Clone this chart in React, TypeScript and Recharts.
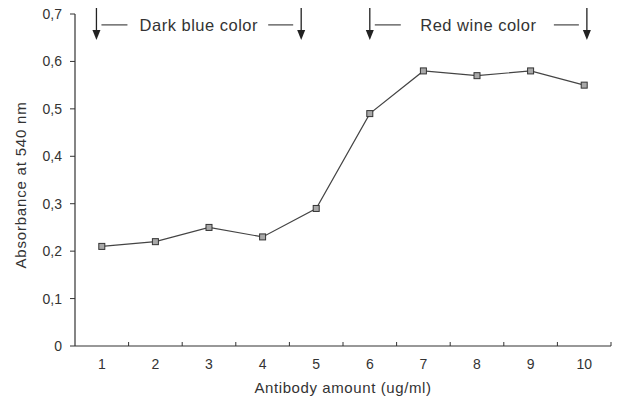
import React from "react";
import { LineChart, Line, XAxis, YAxis, ReferenceLine } from "recharts";

// antibody amount (ug/ml) and absorbance at 540 nm
const amounts = [1, 2, 3, 4, 5, 6, 7, 8, 9, 10];
const absorbance = [0.21, 0.22, 0.25, 0.23, 0.29, 0.49, 0.58, 0.57, 0.58, 0.55];
const yTicks = [0, 0.1, 0.2, 0.3, 0.4, 0.5, 0.6, 0.7];
// category borders get small tick marks, categories get labels
const borders = [1.5, 2.5, 3.5, 4.5, 5.5, 6.5, 7.5, 8.5, 9.5, 10.5];

// annotation arrows and the colour ranges between them
const arrowXs = [0.9, 4.72, 6, 10.05];
const arrowTop = 0.718;
const arrowTip = 0.645;
const colorRanges = [
  { from: 0.9, to: 4.72, text: "Dark blue color" },
  { from: 6, to: 10.05, text: "Red wine color" },
];
const rangeLabelY = 0.677;

const data = amounts.map((x, i) => ({ x, y: absorbance[i] }));
const xTicks = [...amounts, ...borders].sort((a, b) => a - b);

const FONT = "'Liberation Sans', Arial, sans-serif";
const INK = "#333";

const XTick = (props: any) => {
  const { x, y, payload } = props;
  if (Number.isInteger(payload.value)) {
    return (
      <text x={x} y={y + 23} textAnchor="middle" fontSize={14} fill={INK} fontFamily={FONT}>
        {payload.value}
      </text>
    );
  }
  return <line x1={x} x2={x} y1={y} y2={y - 4} stroke={INK} strokeWidth={1} />;
};

const SquareDot = (props: any) => {
  const { cx, cy } = props;
  if (cx == null || cy == null) return null;
  return <rect x={cx - 3} y={cy - 3} width={6} height={6} fill="#a8a8a8" stroke="#333" strokeWidth={1} />;
};

const Arrow = (props: any) => {
  const { x1, y1, y2 } = props;
  return (
    <g>
      <line x1={x1} x2={x1} y1={y1} y2={y2 - 8} stroke="#222" strokeWidth={1.3} />
      <polygon points={`${x1 - 4},${y2 - 10} ${x1 + 4},${y2 - 10} ${x1},${y2}`} fill="#222" />
    </g>
  );
};

const RangeLabel = (props: any, text: string) => {
  const { x1, x2, y1 } = props;
  const mid = (x1 + x2) / 2;
  return (
    <g>
      <line x1={x1 + 5} x2={x1 + 31} y1={y1} y2={y1} stroke="#222" strokeWidth={1} />
      <line x1={x2 - 33} x2={x2 - 8} y1={y1} y2={y1} stroke="#222" strokeWidth={1} />
      <text
        x={mid}
        y={y1 + 6}
        textAnchor="middle"
        fontSize={16.5}
        letterSpacing={0.5}
        fill={INK}
        fontFamily={FONT}
      >
        {text}
      </text>
    </g>
  );
};

const YTitle = (props: any) => {
  const { viewBox } = props;
  const cx = 20;
  const cy = viewBox.y + viewBox.height / 2 + 5;
  return (
    <text
      x={cx}
      y={cy}
      transform={`rotate(-90, ${cx}, ${cy})`}
      textAnchor="middle"
      dominantBaseline="central"
      fontSize={15}
      letterSpacing={0.8}
      fill={INK}
      fontFamily={FONT}
    >
      Absorbance at 540 nm
    </text>
  );
};

export default function App() {
  return (
    <div style={{ margin: "-8px 0 0 -8px", width: 620, height: 401, background: "#fff" }}>
      <LineChart width={620} height={401} data={data} margin={{ top: 14, right: 9, left: 0, bottom: 0 }}>
        <XAxis
          dataKey="x"
          type="number"
          domain={[0.5, 10.5]}
          ticks={xTicks}
          interval={0}
          tick={<XTick />}
          tickLine={false}
          tickSize={0}
          tickMargin={0}
          axisLine={{ stroke: INK, strokeWidth: 1.2 }}
          height={55}
          label={{
            value: "Antibody amount (ug/ml)",
            position: "insideBottom",
            offset: 8,
            fontSize: 15,
            letterSpacing: 0.6,
            fill: INK,
            fontFamily: FONT,
          }}
        />
        <YAxis
          type="number"
          domain={[0, 0.7]}
          ticks={yTicks}
          interval={0}
          width={75}
          tickSize={5}
          tickMargin={8}
          tickFormatter={(v: number) => (v === 0 ? "0" : v.toFixed(1).replace(".", ","))}
          tick={{ fontSize: 14, fill: INK, fontFamily: FONT }}
          tickLine={{ stroke: INK }}
          axisLine={{ stroke: INK, strokeWidth: 1.2 }}
          label={<YTitle />}
        />
        {arrowXs.map((ax) => (
          <ReferenceLine
            key={`arrow-${ax}`}
            segment={[
              { x: ax, y: arrowTop },
              { x: ax, y: arrowTip },
            ]}
            ifOverflow="visible"
            shape={(p: any) => <Arrow {...p} />}
          />
        ))}
        {colorRanges.map((r) => (
          <ReferenceLine
            key={r.text}
            segment={[
              { x: r.from, y: rangeLabelY },
              { x: r.to, y: rangeLabelY },
            ]}
            ifOverflow="visible"
            shape={(p: any) => RangeLabel(p, r.text)}
          />
        ))}
        <Line
          type="linear"
          dataKey="y"
          stroke="#444"
          strokeWidth={1.2}
          dot={<SquareDot />}
          isAnimationActive={false}
        />
      </LineChart>
    </div>
  );
}
